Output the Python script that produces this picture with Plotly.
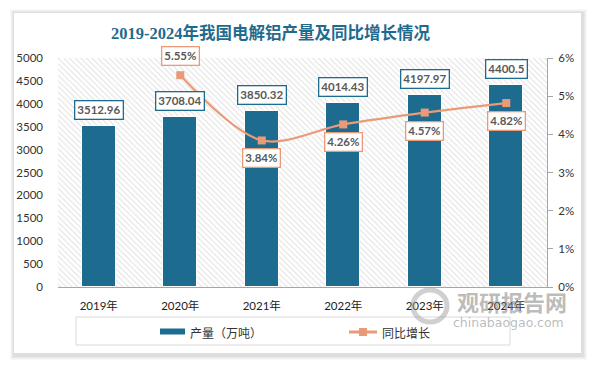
import plotly.graph_objects as go

# ---- data ----
categories = ["2019年", "2020年", "2021年", "2022年", "2023年", "2024年"]
production = [3512.96, 3708.04, 3850.32, 4014.43, 4197.97, 4400.5]
growth = [None, 5.55, 3.84, 4.26, 4.57, 4.82]
production_labels = ["3512.96", "3708.04", "3850.32", "4014.43", "4197.97", "4400.5"]
growth_labels = [None, "5.55%", "3.84%", "4.26%", "4.57%", "4.82%"]
growth_label_above = [False, True, False, False, False, False]
y_left_max = 5000
y_right_max = 6

title_text = "2019-2024年我国电解铝产量及同比增长情况"
legend_bar = "产量（万吨）"
legend_line = "同比增长"

# ---- style ----
W, H = 594, 366
PL, PR, PT, PB = 58, 547, 58, 287  # plot area in pixels
BAR = "#1d6b8f"
LINE = "#e99b79"
NUM_FONT = "Lato, Noto Sans, sans-serif"
CJK_FONT = "Noto Sans CJK SC, sans-serif"


def px(x):
    return (x - PL) / (PR - PL)


def py(y):
    return (PB - y) / (PB - PT)


fig = go.Figure()

# hatched plot-area background
fig.add_trace(go.Bar(
    x=categories, y=[y_left_max] * len(categories), width=1,
    marker=dict(color="white", line=dict(width=0),
                pattern=dict(shape="\\", fgcolor="#c4c4c4", bgcolor="white", size=4, solidity=0.28)),
    hoverinfo="skip", showlegend=False,
))

# production bars
fig.add_trace(go.Bar(
    x=categories, y=production, width=0.42,
    marker=dict(color=BAR, line=dict(color="white", width=1)),
    name=legend_bar, showlegend=False,
))

# growth line
fig.add_trace(go.Scatter(
    x=categories, y=growth, yaxis="y2", mode="lines+markers",
    line=dict(color=LINE, width=2.2, shape="spline", smoothing=0.9),
    marker=dict(symbol="square", size=8, color=LINE),
    connectgaps=False, name=legend_line, showlegend=False,
))

annotations = []
for c, v, t in zip(categories, production, production_labels):
    annotations.append(dict(
        x=c, y=v, xref="x", yref="y", text=t, showarrow=False, yshift=16,
        font=dict(family=NUM_FONT, size=11.5, color="#595959", weight="bold"),
        bgcolor="white", bordercolor=BAR, borderwidth=1.3, borderpad=2,
    ))
for c, v, t, above in zip(categories, growth, growth_labels, growth_label_above):
    if v is None:
        continue
    annotations.append(dict(
        x=c, y=v, xref="x", yref="y2", text=t, showarrow=False,
        yshift=19 if above else -18,
        font=dict(family=NUM_FONT, size=11.5, color="#595959", weight="bold"),
        bgcolor="white", bordercolor=LINE, borderwidth=1.3, borderpad=2,
    ))

# title
annotations.append(dict(
    x=px(270), y=py(33), xref="paper", yref="paper", text=title_text, showarrow=False,
    xanchor="center", yanchor="middle",
    font=dict(family="Liberation Serif, Noto Sans CJK SC, serif", size=16.5, color="#1f6b8e", weight="bold"),
))

# legend texts
annotations.append(dict(
    x=px(188), y=py(332), xref="paper", yref="paper", text=legend_bar, showarrow=False,
    xanchor="left", yanchor="middle", font=dict(family=CJK_FONT, size=12, color="#333333"),
))
annotations.append(dict(
    x=px(380), y=py(332), xref="paper", yref="paper", text=legend_line, showarrow=False,
    xanchor="left", yanchor="middle", font=dict(family=CJK_FONT, size=12, color="#333333"),
))

# watermark
annotations.append(dict(
    x=px(512), y=py(301), xref="paper", yref="paper", text="观研报告网", showarrow=False,
    xanchor="center", yanchor="middle",
    font=dict(family=CJK_FONT, size=22, color="rgba(130,130,130,0.55)", weight="bold"),
))
annotations.append(dict(
    x=px(508), y=py(322), xref="paper", yref="paper", text="chinabaogao.com", showarrow=False,
    xanchor="center", yanchor="middle",
    font=dict(family="DejaVu Sans, sans-serif", size=12.5, color="rgba(130,130,130,0.55)"),
))

shapes = []
# card shadow + card
for i, a in enumerate([0.025, 0.03, 0.035, 0.04]):
    d = 4 - i
    shapes.append(dict(type="rect", xref="paper", yref="paper", layer="below",
                       x0=px(14 - d), x1=px(583 + d), y0=py(13 - d), y1=py(356 + d),
                       fillcolor=f"rgba(0,0,0,{a})", line=dict(width=0)))
shapes.append(dict(type="rect", xref="paper", yref="paper", layer="below",
                   x0=px(14), x1=px(581), y0=py(13), y1=py(353),
                   fillcolor="white", line=dict(width=0)))
# legend box
shapes.append(dict(type="rect", xref="paper", yref="paper",
                   x0=px(76), x1=px(510), y0=py(317), y1=py(345),
                   fillcolor="rgba(0,0,0,0)", line=dict(color="#d9d9d9", width=1)))
shapes.append(dict(type="rect", xref="paper", yref="paper",
                   x0=px(160), x1=px(185), y0=py(328.5), y1=py(334.5),
                   fillcolor=BAR, line=dict(width=0)))
shapes.append(dict(type="line", xref="paper", yref="paper",
                   x0=px(349), x1=px(377), y0=py(332), y1=py(332),
                   line=dict(color=LINE, width=3)))
shapes.append(dict(type="rect", xref="paper", yref="paper",
                   x0=px(359), x1=px(367), y0=py(328), y1=py(336),
                   fillcolor=LINE, line=dict(width=0)))
# watermark logo
shapes.append(dict(type="circle", xref="paper", yref="paper",
                   x0=px(413), x1=px(447), y0=py(290), y1=py(322),
                   fillcolor="rgba(0,0,0,0)", line=dict(color="rgba(150,150,150,0.45)", width=5)))

fig.update_layout(
    width=W, height=H,
    margin=dict(l=PL, r=W - PR, t=PT, b=H - PB, pad=0),
    paper_bgcolor="white", plot_bgcolor="rgba(0,0,0,0)",
    barmode="overlay", bargap=0,
    showlegend=False,
    xaxis=dict(type="category", showline=True, linecolor="#a6a6a6", linewidth=1,
               ticks="", showgrid=False,
               tickfont=dict(family=NUM_FONT + ", Noto Sans CJK SC", size=11.5, color="#222222"),
               ticklabelstandoff=8),
    yaxis=dict(range=[0, y_left_max], dtick=500, showgrid=False, zeroline=False, showline=False,
               tickfont=dict(family=NUM_FONT, size=11.5, color="#333333"),
               ticklabelstandoff=14),
    yaxis2=dict(range=[0, y_right_max], dtick=1, ticksuffix="%", overlaying="y", side="right",
                showgrid=False, zeroline=False, showline=True, linecolor="#a6a6a6", linewidth=1,
                ticks="outside", ticklen=5, tickcolor="#a6a6a6",
                tickfont=dict(family=NUM_FONT, size=11.5, color="#333333"),
                ticklabelstandoff=3),
    annotations=annotations,
    shapes=shapes,
)

fig.write_html("out.html", config={"displayModeBar": False},
               post_script="document.body.style.margin='0';")
